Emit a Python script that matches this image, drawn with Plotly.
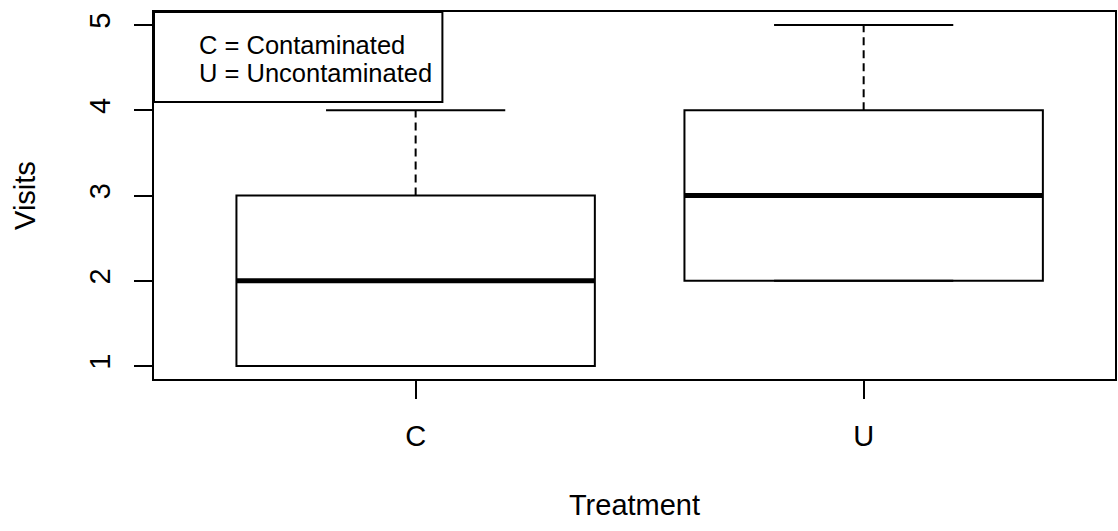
import plotly.graph_objects as go

categories = ["C", "U"]
positions = [1, 2]
q1 = [1, 2]
median = [2, 3]
q3 = [3, 4]
whisker_low = [1, 2]
whisker_high = [4, 5]
legend_lines = ["C = Contaminated", "U = Uncontaminated"]

FONT = "Liberation Sans, Arial, sans-serif"
BOX_W = 0.8
CAP_HALF = 0.2

fig = go.Figure()

for i, cat in enumerate(categories):
    p = positions[i]
    fig.add_trace(go.Box(
        x=[p], q1=[q1[i]], median=[median[i]], q3=[q3[i]],
        lowerfence=[q1[i]], upperfence=[q3[i]],
        width=BOX_W, fillcolor="rgba(0,0,0,0)",
        line=dict(color="black", width=2), boxpoints=False,
        hoverinfo="skip", showlegend=False, name=cat))
    # thick median
    fig.add_trace(go.Scatter(
        x=[p - BOX_W / 2, p + BOX_W / 2], y=[median[i], median[i]],
        mode="lines", line=dict(color="black", width=5), showlegend=False, hoverinfo="skip"))
    # dashed whiskers
    for a, b in [(q3[i], whisker_high[i]), (q1[i], whisker_low[i])]:
        if a != b:
            fig.add_trace(go.Scatter(
                x=[p, p], y=[a, b], mode="lines",
                line=dict(color="black", width=2, dash="8px,5px"),
                showlegend=False, hoverinfo="skip"))
    # staples
    for v in [whisker_high[i], whisker_low[i]]:
        fig.add_trace(go.Scatter(
            x=[p - CAP_HALF, p + CAP_HALF], y=[v, v], mode="lines",
            line=dict(color="black", width=2), showlegend=False, hoverinfo="skip"))

# legend-like text box
fig.add_shape(type="rect", xref="paper", yref="paper",
              x0=0, x1=(443 - 154) / 963, y0=1 - 90 / 367, y1=1,
              line=dict(color="black", width=2), fillcolor="white", layer="above")
for j, txt in enumerate(legend_lines):
    fig.add_annotation(xref="paper", yref="paper", x=(197 - 154) / 963,
                       y=1 - (45 + 28 * j - 12) / 367, xanchor="left", yanchor="middle",
                       text=txt, showarrow=False, font=dict(family=FONT, size=25.5, color="black"))

fig.update_layout(
    width=1118, height=531,
    margin=dict(l=154, r=1, t=12, b=152),
    paper_bgcolor="white", plot_bgcolor="white",
    font=dict(family=FONT, size=29, color="black"),
    showlegend=False,
)
fig.update_xaxes(
    range=[0.416, 2.561], tickvals=positions, ticktext=categories,
    showgrid=False, zeroline=False, showline=True, mirror=True,
    linecolor="black", linewidth=2, ticks="outside", ticklen=18, tickwidth=2,
    tickcolor="black", ticklabelstandoff=12,
    title=dict(text="Treatment", standoff=44, font=dict(size=29)),
)
fig.update_yaxes(
    range=[0.848, 5.152], tickvals=[1, 2, 3, 4, 5],
    showgrid=False, zeroline=False, showline=True, mirror=True,
    linecolor="black", linewidth=2, ticks="outside", ticklen=18, tickwidth=2,
    tickcolor="black", tickangle=-90, ticklabelstandoff=12,
    title=dict(text="Visits", standoff=40, font=dict(size=29)),
)

fig.write_html("out.html")
